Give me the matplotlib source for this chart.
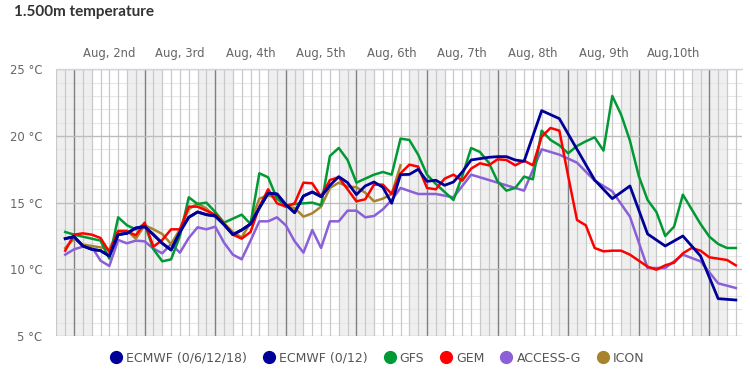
import numpy as np
import matplotlib
matplotlib.use("Agg")
import matplotlib.pyplot as plt
from matplotlib.lines import Line2D

# ---------------- data ----------------
title = "1.500m temperature"
day_labels = ["Aug, 2nd", "Aug, 3rd", "Aug, 4th", "Aug, 5th", "Aug, 6th",
              "Aug, 7th", "Aug, 8th", "Aug, 9th", "Aug,10th"]
y_ticks = [5, 10, 15, 20, 25]
y_tick_labels = ["5 °C", "10 °C", "15 °C", "20 °C", "25 °C"]

# hours relative to Aug 2nd 00:00
ecmwf_hours = np.r_[np.arange(-3, 154, 3), np.arange(159, 226, 6)]
ecmwf_temp = [12.3, 12.45, 11.75, 11.5, 11.4, 11.0, 12.6, 12.7, 13.1, 13.2,
              12.6, 11.95, 11.45, 12.8, 13.9, 14.3, 14.1, 14.0, 13.35, 12.6,
              12.95, 13.4, 14.6, 15.7, 15.65, 14.85, 14.25, 15.5, 15.8, 15.45,
              16.3, 16.95, 16.5, 15.6, 16.25, 16.55, 16.15, 14.95, 17.1, 17.12,
              17.5, 16.6, 16.68, 16.3, 16.55, 17.3, 18.2, 18.3, 18.4, 18.45,
              18.45, 18.2, 18.1,
              21.9, 21.3, 19.0, 16.7, 15.3, 16.25, 12.65, 11.75, 12.5, 11.0, 7.8, 7.7]
ecmwf_hres_count = 31  # ECMWF (0/6/12/18) run covers the first part

gfs_hours = np.arange(-3, 226, 3)
gfs_temp = [12.8, 12.6, 12.45, 12.3, 12.15, 10.8, 13.9, 13.3, 13.0, 13.4,
            11.5, 10.6, 10.75, 12.5, 15.4, 14.9, 15.0, 14.3, 13.5, 13.8,
            14.1, 13.4, 17.2, 16.9, 15.3, 14.8, 14.9, 14.95, 15.0, 14.8,
            18.5, 19.1, 18.2, 16.5, 16.8, 17.1, 17.3, 17.1, 19.8, 19.7,
            18.6, 17.1, 16.4, 15.8, 15.2, 17.0, 19.1, 18.8, 18.0, 16.6,
            15.9, 16.1, 16.95, 16.75, 20.4, 19.7, 19.3, 18.7, 19.25, 19.6,
            19.9, 18.9, 23.0, 21.6, 19.65, 17.0, 15.2, 14.3, 12.5, 13.2,
            15.6, 14.5, 13.4, 12.45, 11.9, 11.6, 11.6]

gem_hours = np.arange(-3, 226, 3)
gem_temp = [11.4, 12.6, 12.7, 12.6, 12.35, 11.3, 12.85, 12.85, 12.55, 13.5,
            11.7, 12.2, 13.0, 13.0, 14.7, 14.7, 14.4, 14.1, 13.4, 12.6,
            12.3, 12.8, 14.7, 16.0, 14.95, 14.7, 14.95, 16.5, 16.45, 15.45,
            16.7, 16.9, 16.0, 15.1, 15.25, 16.35, 16.35, 15.65, 17.2, 17.85,
            17.7, 16.1, 16.0, 16.8, 17.1, 16.65, 17.55, 17.95, 17.8, 18.25,
            18.2, 17.8, 18.15, 17.8, 19.95, 20.6, 20.4, 17.0, 13.7, 13.3,
            11.6, 11.35, 11.4, 11.4, 11.1, 10.65, 10.2, 9.97, 10.3, 10.5,
            11.2, 11.6, 11.4, 10.9, 10.8, 10.7, 10.3]

access_hours = np.r_[np.arange(-3, 112, 3), np.arange(117, 226, 6)]
access_temp = [11.1, 11.5, 11.7, 11.7, 10.65, 10.25, 12.2, 11.95, 12.15, 12.1,
               11.55, 11.2, 11.9, 11.25, 12.35, 13.15, 13.0, 13.2, 12.0, 11.1,
               10.75, 12.15, 13.6, 13.6, 13.9, 13.3, 12.1, 11.25, 12.95, 11.6,
               13.6, 13.6, 14.4, 14.4, 13.9, 14.0, 14.5, 15.2, 16.1,
               15.65, 15.65, 15.4, 17.1, 16.7, 16.3, 15.9, 19.0, 18.6, 18.0,
               16.65, 15.85, 13.95, 10.1, 10.1, 11.1, 10.6, 8.95, 8.6]

icon_hours = np.arange(-3, 112, 3)
icon_temp = [11.6, 12.3, 11.85, 11.75, 11.65, 11.5, 12.9, 12.9, 12.3, 13.3,
             13.0, 12.65, 11.9, 13.0, 14.5, 14.95, 14.55, 13.95, 13.45, 12.8,
             12.4, 13.5, 15.3, 15.55, 15.35, 14.7, 14.6, 13.95, 14.2, 14.7,
             16.1, 16.5, 16.2, 16.15, 15.75, 15.1, 15.3, 15.65, 17.8]

series_names = ["ECMWF (0/6/12/18)", "ECMWF (0/12)", "GFS", "GEM", "ACCESS-G", "ICON"]
series_colors = ["#000099", "#000099", "#009933", "#ff0000", "#8a5fd8", "#a8832c"]

# ---------------- figure ----------------
fig = plt.figure(figsize=(7.5, 3.8), dpi=100)
ax = fig.add_axes([56.4 / 750, 1 - 336 / 380, (741.7 - 56.4) / 750, (336 - 69.3) / 380])
x_min, x_max = -6, 227
ax.set_xlim(x_min, x_max)
ax.set_ylim(5, 25)

# night shading
for d in range(0, 11):
    c = 24 * d
    ax.axvspan(max(c - 6, x_min), min(c + 6, x_max), color="#efefef", lw=0, zorder=0)

# minor horizontal grid
for t in range(6, 25):
    if t % 5:
        ax.axhline(t, color="#e6e6e6", lw=0.8, zorder=1)
# vertical grid every 3 h
for h in range(-6, 228, 3):
    if h % 24 == 0:
        ax.axvline(h, color="#808080", lw=1.0, zorder=1.5)
    else:
        ax.axvline(h, color="#c9c9c9", lw=0.9, zorder=1.2)
# major horizontal grid
for t in y_ticks:
    ax.axhline(t, color="#bdbdbd", lw=1.0, zorder=1.6)

lw = 1.8
ax.plot(access_hours, access_temp, color=series_colors[4], lw=lw, zorder=3)
ax.plot(icon_hours, icon_temp, color=series_colors[5], lw=lw, zorder=3.1)
ax.plot(gfs_hours, gfs_temp, color=series_colors[2], lw=lw, zorder=3.2)
ax.plot(gem_hours, gem_temp, color=series_colors[3], lw=lw, zorder=3.3)
ax.plot(ecmwf_hours, ecmwf_temp, color=series_colors[1], lw=2.0, zorder=3.4)
ax.plot(ecmwf_hours[:ecmwf_hres_count], ecmwf_temp[:ecmwf_hres_count],
        color=series_colors[0], lw=2.0, zorder=3.5)

for s in ["left", "right", "bottom"]:
    ax.spines[s].set_visible(False)
ax.spines["top"].set_color("#ccd6eb")
ax.spines["top"].set_linewidth(1.0)
ax.spines["top"].set_zorder(5)

ax.set_yticks(y_ticks)
ax.set_yticklabels(y_tick_labels)
ax.tick_params(axis="y", length=0, pad=10, labelsize=8.4, labelcolor="#666666")
ax.xaxis.tick_top()
ax.set_xticks([12 + 24 * i for i in range(len(day_labels))])
ax.set_xticklabels(day_labels)
ax.tick_params(axis="x", length=0, pad=7, labelsize=8.4, labelcolor="#666666")

fig.text(14 / 750, 1 - 12 / 380, title, fontsize=11, fontweight="bold",
         family=["Lato", "DejaVu Sans"], color="#333333", ha="left", va="center")

handles = [Line2D([], [], marker="o", linestyle="none", markersize=8.5,
                  markerfacecolor=c, markeredgecolor=c) for c in series_colors]
leg = fig.legend(handles, series_names, loc="center", bbox_to_anchor=(0.503, 1 - 358 / 380),
                 ncol=6, frameon=False, fontsize=9, handletextpad=0.3,
                 columnspacing=1.25, handlelength=1.0, borderaxespad=0)
for t in leg.get_texts():
    t.set_color("#555555")

fig.savefig("out.png", dpi=100)
